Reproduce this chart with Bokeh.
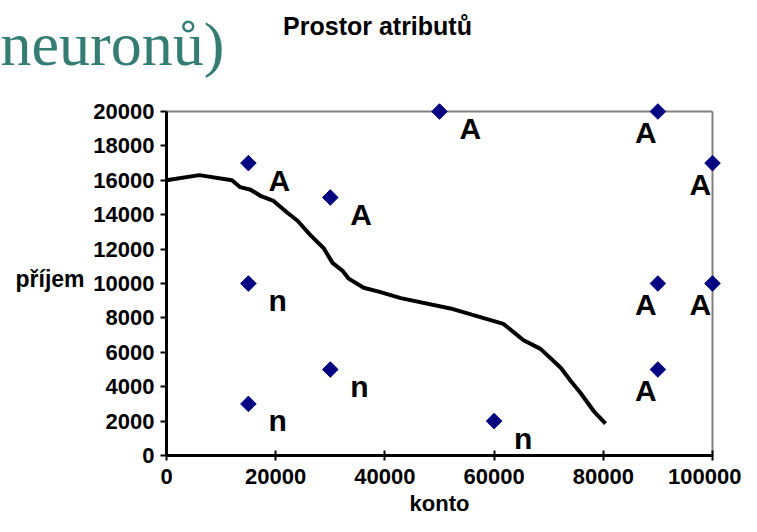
import math
from bokeh.plotting import figure
from bokeh.models import ColumnDataSource, FixedTicker, NumeralTickFormatter, Label, Range1d
from bokeh.core.properties import value
from bokeh.embed import file_html
from bokeh.resources import INLINE

# ---- data ----
konto_pts = [15000, 15000, 15000, 30000, 30000, 50000, 60000, 90000, 90000, 90000, 100000, 100000]
prijem_pts = [17000, 10000, 3000, 15000, 5000, 20000, 2000, 20000, 10000, 5000, 17000, 10000]
trida = ["A", "n", "n", "A", "n", "A", "n", "A", "A", "A", "A", "A"]

curve_konto = [0, 6000, 12000, 13500, 15400, 17200, 19600, 22200, 24000, 26400, 28800, 30400,
               32200, 33300, 36100, 39200, 42900, 52000, 61700, 65400, 68500, 72200, 74000,
               75800, 78200, 80400]
curve_prijem = [16000, 16300, 16000, 15600, 15450, 15100, 14800, 14100, 13650, 12800, 12050, 11200,
                10750, 10300, 9750, 9500, 9150, 8550, 7650, 6700, 6200, 5100, 4350,
                3650, 2600, 1850]

x_ticks = [0, 20000, 40000, 60000, 80000, 100000]
y_ticks = [0, 2000, 4000, 6000, 8000, 10000, 12000, 14000, 16000, 18000, 20000]
X_MIN, X_MAX = 0, 100000
Y_MIN, Y_MAX = 0, 20000

title_text = "Prostor atributů"
x_title = "konto"
y_title = "příjem"
slide_text = "neuronů)"

# ---- layout (pixels) ----
W, H = 741, 516
F_LEFT, F_RIGHT, F_TOP, F_BOTTOM = 166, 712, 111, 455   # where the axis box sits on the canvas
sx = (X_MAX - X_MIN) / (F_RIGHT - F_LEFT)
sy = (Y_MAX - Y_MIN) / (F_BOTTOM - F_TOP)
x_range = Range1d(X_MIN - F_LEFT * sx, X_MAX + (W - F_RIGHT) * sx)
y_range = Range1d(Y_MIN - (H - F_BOTTOM) * sy, Y_MAX + F_TOP * sy)

SANS = "Liberation Sans"

p = figure(width=W, height=H, output_backend="svg", toolbar_location=None, title=None,
           x_range=x_range, y_range=y_range,
           min_border_left=0, min_border_right=0, min_border_top=0, min_border_bottom=0)
p.grid.visible = False
p.outline_line_color = None
p.background_fill_color = "white"
p.border_fill_color = "white"

xa = p.xaxis[0]
ya = p.yaxis[0]
xa.fixed_location = 0
ya.fixed_location = 0
xa.bounds = (X_MIN, X_MAX)
ya.bounds = (Y_MIN, Y_MAX)
for ax in (xa, ya):
    ax.axis_line_color = "black"
    ax.axis_line_width = 3
    ax.major_tick_line_color = "black"
    ax.major_tick_line_width = 2
    ax.minor_tick_line_color = None
    ax.major_label_text_font = SANS
    ax.major_label_text_font_style = "bold"
    ax.major_label_text_font_size = "22px"
    ax.major_label_text_color = "black"
    ax.formatter = NumeralTickFormatter(format="0")

xa.ticker = FixedTicker(ticks=x_ticks)
ya.ticker = FixedTicker(ticks=y_ticks)
xa.major_tick_in = 5
xa.major_tick_out = 5
xa.major_label_standoff = 8
ya.major_tick_in = 0
ya.major_tick_out = 6
ya.major_label_standoff = 6

xa.axis_label = x_title
xa.axis_label_text_font = SANS
xa.axis_label_text_font_style = "bold"
xa.axis_label_text_font_size = "22px"
xa.axis_label_text_color = "black"
xa.axis_label_standoff = 4

# grey top and right border of the plot area
p.segment(x0=[X_MIN, X_MAX], y0=[Y_MAX, Y_MIN], x1=[X_MAX, X_MAX], y1=[Y_MAX, Y_MAX],
          line_color="#808080", line_width=2)

# curve
p.line(curve_konto, curve_prijem, line_color="black", line_width=4, line_join="round")

# points
p.scatter(konto_pts, prijem_pts, marker="square", angle=math.pi / 4, size=11,
          fill_color="#000080", line_color="#000080")

# point labels
left = [i for i, x in enumerate(konto_pts) if x < 90000]
right = [i for i, x in enumerate(konto_pts) if x >= 90000]
src_l = ColumnDataSource(dict(x=[konto_pts[i] for i in left], y=[prijem_pts[i] for i in left],
                              t=[trida[i] for i in left]))
src_r = ColumnDataSource(dict(x=[konto_pts[i] for i in right], y=[prijem_pts[i] for i in right],
                              t=[trida[i] for i in right]))
common = dict(text="t", text_font=value(SANS), text_font_style="bold",
              text_font_size="30px", text_color="black", text_baseline="alphabetic")
p.text("x", "y", source=src_l, x_offset=20, y_offset=17, text_align="left", **common)
p.text("x", "y", source=src_r, x_offset=-23, y_offset=21, text_align="left", **common)

# free texts (screen units: canvas, y up from bottom)
def lab(px, py, text, **kw):
    p.add_layout(Label(x=px, y=H - py, x_units="screen", y_units="screen", text=text,
                       text_baseline="alphabetic", **kw))

lab(377, 25, title_text, text_font=SANS, text_font_style="bold", text_font_size="25px",
    text_align="center", text_color="black")
lab(0, 43, slide_text, text_font="Liberation Serif", text_font_size="62px",
    text_align="left", text_color="#347c74")
lab(15, 278, y_title, text_font=SANS, text_font_style="bold", text_font_size="23px",
    text_align="left", text_color="black")

open("out.html", "w").write(file_html(p, INLINE))
